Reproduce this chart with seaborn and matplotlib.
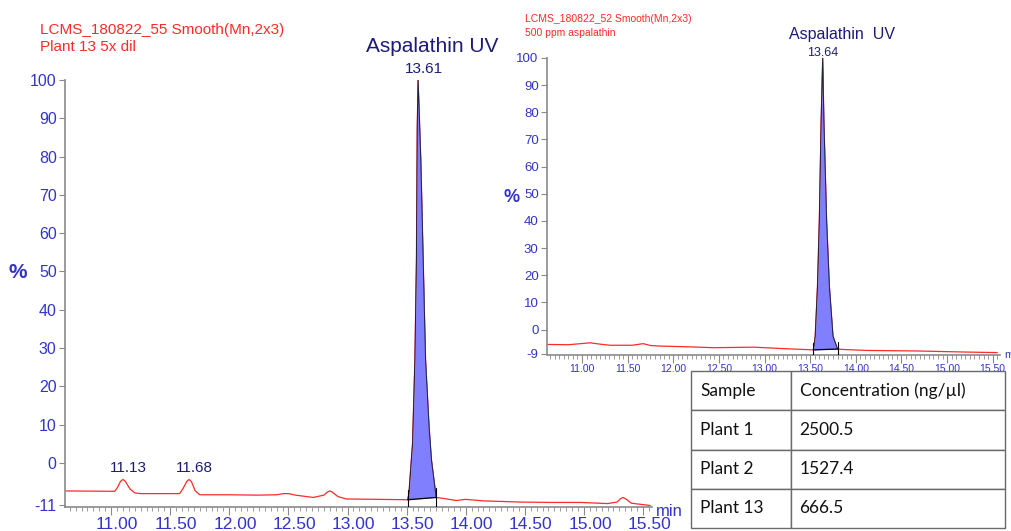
import numpy as np
import pandas as pd
import matplotlib
matplotlib.use("Agg")
import matplotlib.pyplot as plt
import matplotlib.transforms as mtransforms
import seaborn as sns
from matplotlib.ticker import MultipleLocator

# Left chromatogram: Plant 13, 5x dilution (time in min, intensity in %)
left_t = [10.62, 11.03, 11.05, 11.08, 11.10, 11.12, 11.16, 11.20, 11.25, 11.40, 11.58, 11.61,
          11.64, 11.66, 11.68, 11.71, 11.75, 12.00, 12.24, 12.40, 12.46, 12.50, 12.56, 12.71,
          12.80, 12.83, 12.85, 12.87, 12.92, 12.99, 13.26,
          13.51, 13.52, 13.53, 13.55, 13.57, 13.583, 13.59, 13.597, 13.62, 13.64, 13.66, 13.69,
          13.71, 13.75, 13.80, 13.92, 14.00, 14.15, 14.46, 14.72, 14.97, 15.20, 15.28, 15.31,
          15.33, 15.36, 15.40, 15.56]
left_v = [-7.3, -7.4, -6.6, -4.8, -4.3, -4.8, -6.8, -7.8, -8.0, -8.0, -8.0, -6.6,
          -4.8, -4.3, -4.9, -7.2, -8.3, -8.3, -8.4, -8.3, -8.0, -8.0, -8.4, -9.0,
          -8.4, -7.6, -7.3, -7.6, -8.8, -9.4, -9.5,
          -9.6, -7.8, -3.4, 5.0, 27.0, 53.0, 88.0, 100.0, 79.0, 53.0, 27.0, 9.4,
          0.8, -9.0, -9.2, -9.8, -9.5, -9.9, -10.2, -10.3, -10.3, -10.6, -10.2, -9.3,
          -9.0, -9.5, -10.5, -11.1]
left_peak_t = [11.10, 11.66, 13.597]
left_peak_v = [-4.3, -4.3, 100.0]
left_peak_labels = ["11.13", "11.68", "13.61"]
left_base_t = [13.51, 13.75]
left_base_v = [-9.6, -9.0]

# Right chromatogram: 500 ppm aspalathin standard
right_t = [10.62, 10.85, 11.09, 11.20, 11.31, 11.55, 11.67, 11.75, 11.86, 12.20, 12.44, 12.88,
           13.25, 13.535, 13.555, 13.58, 13.60, 13.62, 13.637, 13.65, 13.68, 13.71, 13.75,
           13.80, 13.86, 14.12, 14.67, 15.21, 15.55]
right_v = [-5.5, -5.6, -4.9, -5.4, -5.8, -5.8, -5.2, -5.9, -6.1, -6.4, -6.7, -6.5,
           -7.1, -7.5, -2.5, 16.0, 40.0, 77.0, 100.0, 77.0, 40.0, 16.0, -2.5,
           -7.2, -7.35, -7.7, -7.9, -8.3, -8.5]
right_peak_t = [13.637]
right_peak_v = [100.0]
right_peak_labels = ["13.64"]
right_base_t = [13.535, 13.80]
right_base_v = [-7.5, -7.2]

x_ticks = [11.0, 11.5, 12.0, 12.5, 13.0, 13.5, 14.0, 14.5, 15.0, 15.5]
left_y_ticks = [100, 90, 80, 70, 60, 50, 40, 30, 20, 10, 0, -11]
right_y_ticks = [100, 90, 80, 70, 60, 50, 40, 30, 20, 10, 0, -9]

table_header = ["Sample", "Concentration (ng/\u00b5l)"]
table_samples = ["Plant 1", "Plant 2", "Plant 13"]
table_conc = ["2500.5", "1527.4", "666.5"]

W, H = 1012, 531
BLUE = "#3434c8"
NAVY = "#1c1c78"
RED = "#ff2a2a"
FILL = "#8080ff"
GREY = "#8a8a8a"

sns.set_theme(style="white")
plt.rcParams['font.family'] = ['Liberation Sans', 'DejaVu Sans']

fig = plt.figure(figsize=(W / 100, H / 100), dpi=100)


def px_axes(x0, y0, x1, y1):
    return fig.add_axes([x0 / W, 1 - y1 / H, (x1 - x0) / W, (y1 - y0) / H])


def chromatogram(ax, t, v, base_t, base_v, peak_t, peak_v, peak_labels, yticks,
                 xlim, ylim, xfs, yfs, pfs, lab_dx, lab_dy, tick_h):
    df = pd.DataFrame({'t': t, 'v': v})
    sns.lineplot(data=df, x='t', y='v', ax=ax, color=RED, linewidth=0.9)

    # integrated peak area between trace and drawn baseline
    tt = np.array(t)
    vv = np.array(v)
    mask = (tt >= base_t[0]) & (tt <= base_t[1])
    base = np.interp(tt[mask], base_t, base_v)
    ax.fill_between(tt[mask], vv[mask], base, color=FILL, linewidth=0, zorder=3)
    ax.plot(tt[mask], vv[mask], color="#202040", linewidth=0.7, zorder=4)
    ax.plot(base_t, base_v, color="black", linewidth=0.9, zorder=4)
    for bt, bv in zip(base_t, base_v):
        ax.plot([bt, bt], [bv - tick_h, bv + tick_h], color="black", linewidth=0.8, zorder=4)

    for pt, pv, lab in zip(peak_t, peak_v, peak_labels):
        ax.annotate(lab, (pt, pv), xytext=(lab_dx, lab_dy), textcoords='offset points',
                    ha='center', va='bottom', color=NAVY, fontsize=pfs, annotation_clip=False)

    ax.set_xlim(*xlim)
    ax.set_ylim(*ylim)
    ax.set_xticks(x_ticks)
    ax.set_xticklabels(["%.2f" % x for x in x_ticks])
    ax.xaxis.set_minor_locator(MultipleLocator(0.05))
    ax.set_yticks(yticks)
    ax.set_yticklabels([str(y) for y in yticks])
    ax.set_xlabel("")
    ax.set_ylabel("")

    for s in ['top', 'right']:
        ax.spines[s].set_visible(False)
    for s in ['left', 'bottom']:
        ax.spines[s].set_color(GREY)
        ax.spines[s].set_linewidth(1.2)

    ax.tick_params(axis='x', which='major', direction='out', length=6, width=0.8,
                   color=GREY, labelcolor=BLUE, labelsize=xfs, pad=1, bottom=True)
    ax.tick_params(axis='x', which='minor', direction='out', length=3, width=0.6,
                   color=GREY, bottom=True)
    ax.tick_params(axis='y', direction='out', length=4, width=0.8, color=GREY,
                   labelcolor=BLUE, labelsize=yfs, pad=2, left=True)
    ax.patch.set_alpha(0)


# Left panel
ax1 = px_axes(65, 80, 652.5, 507.4)
chromatogram(ax1, left_t, left_v, left_base_t, left_base_v, left_peak_t, left_peak_v,
             left_peak_labels, left_y_ticks, (10.61, 15.58), (-11.6, 100), 12.5, 11.5, 11, 4, 3, 2.5)
shift = mtransforms.ScaledTranslation(6 / 100, 0, fig.dpi_scale_trans)
for lab in ax1.get_xticklabels():
    lab.set_transform(lab.get_transform() + shift)

fig.text(40 / W, 1 - 30 / H, "LCMS_180822_55 Smooth(Mn,2x3)", color=RED, fontsize=11, va='center')
fig.text(40 / W, 1 - 47 / H, "Plant 13 5x dil", color=RED, fontsize=11, va='center')
fig.text(432 / W, 1 - 46 / H, "Aspalathin UV", color=NAVY, fontsize=15, ha='center', va='center')
fig.text(18 / W, 1 - 273 / H, "%", color=BLUE, fontsize=15, fontweight='bold', ha='center', va='center')
fig.text(656 / W, 1 - 511 / H, "min", color=BLUE, fontsize=12, va='center')

# Right panel
ax2 = px_axes(547, 58, 1000, 354.5)
chromatogram(ax2, right_t, right_v, right_base_t, right_base_v, right_peak_t, right_peak_v,
             right_peak_labels, right_y_ticks, (10.616, 15.58), (-9.2, 100), 7.5, 9.5, 9, 0, -1, 2.5)

fig.text(525 / W, 1 - 19 / H, "LCMS_180822_52 Smooth(Mn,2x3)", color=RED, fontsize=7.5, va='center')
fig.text(525 / W, 1 - 33 / H, "500 ppm aspalathin", color=RED, fontsize=7.5, va='center')
fig.text(842 / W, 1 - 35 / H, "Aspalathin  UV", color=NAVY, fontsize=11.5, ha='center', va='center')
fig.text(512 / W, 1 - 197 / H, "%", color=BLUE, fontsize=13, fontweight='bold', ha='center', va='center')
fig.text(1004 / W, 1 - 355 / H, "min", color=BLUE, fontsize=8, va='center')

# Concentration table
ax3 = px_axes(691, 371, 1005, 528)
ax3.axis('off')
cells = [table_header] + [[s, c] for s, c in zip(table_samples, table_conc)]
tbl = ax3.table(cellText=cells, bbox=[0, 0, 1, 1], colWidths=[100 / 314, 214 / 314],
                cellLoc='left')
tbl.auto_set_font_size(False)
for (r, c), cell in tbl.get_celld().items():
    cell.set_edgecolor("#6a6a6a")
    cell.set_linewidth(1.0)
    cell.set_facecolor("white")
    cell.PAD = 0.09 if c == 0 else 0.04
    cell.get_text().set_fontsize(12.5)
    cell.get_text().set_fontfamily(['Lato', 'DejaVu Sans'])
    cell.get_text().set_color("#111111")

fig.savefig("out.png", dpi=100)
